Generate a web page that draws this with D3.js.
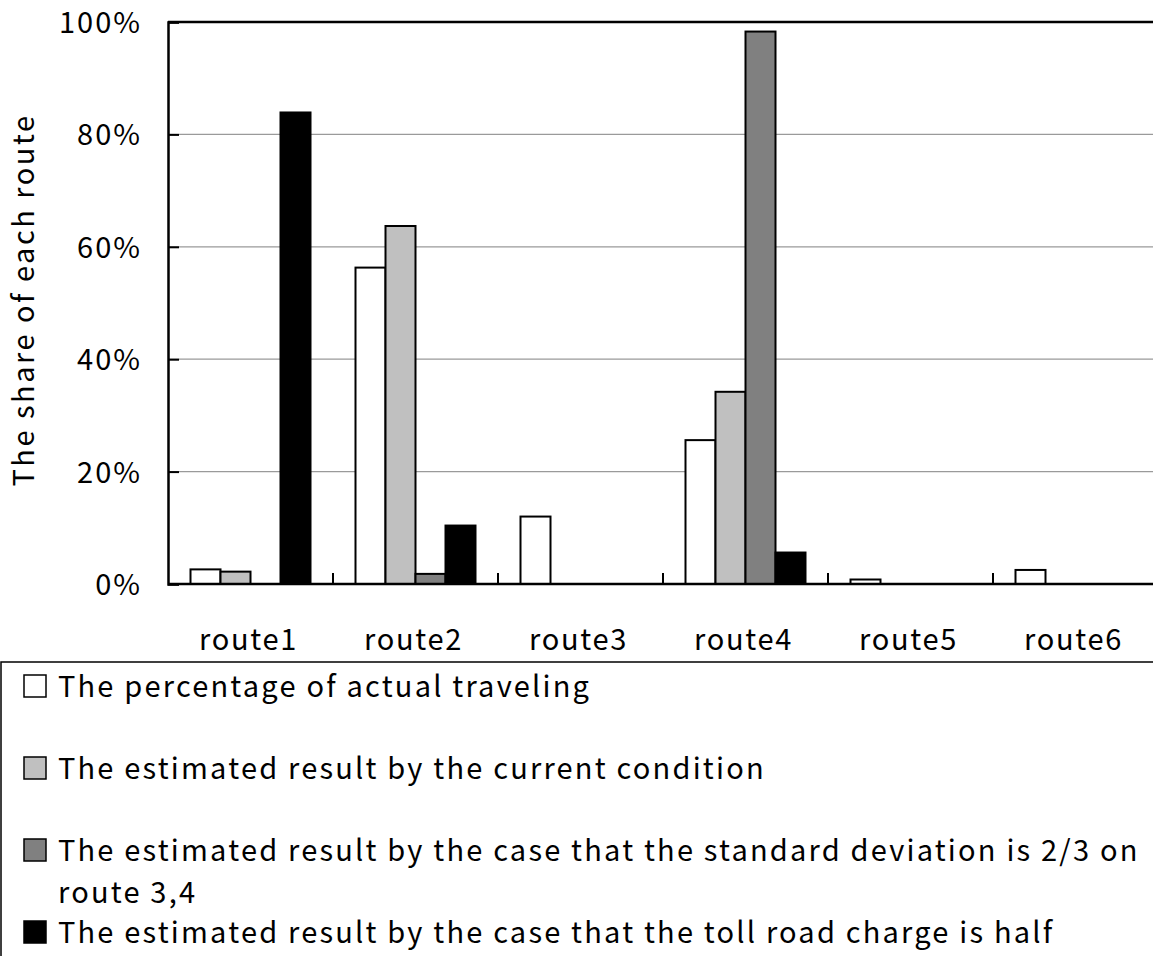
<!DOCTYPE html>
<html>
<head>
<meta charset="utf-8">
<script src="https://cdn.jsdelivr.net/npm/d3@7"></script>
<style>
  html, body { margin: 0; padding: 0; background: #fff; }
  svg { display: block; }
  text { font-family: "Noto Sans CJK JP", "Noto Sans", sans-serif; fill: #000; }
</style>
</head>
<body>
<svg id="chart" width="1153" height="956"></svg>
<script>
// Route share by scenario (percent)
const routes = ["route1", "route2", "route3", "route4", "route5", "route6"];
const seriesNames = ["actual", "current", "stddev", "toll"];
const actualShare  = [2.6, 56.3, 12.0, 25.6, 0.8, 2.5];
const currentShare = [2.2, 63.7, 0, 34.2, 0, 0];
const stddevShare  = [0, 1.8, 0, 98.3, 0, 0];
const tollShare    = [83.9, 10.4, 0, 5.6, 0, 0];
const seriesColors = ["#ffffff", "#c0c0c0", "#808080", "#000000"];
const yTicks = [0, 20, 40, 60, 80, 100];
const legendLabels = [
  ["The percentage of actual traveling"],
  ["The estimated result by the current condition"],
  ["The estimated result by the case that the standard deviation is 2/3 on", "route 3,4"],
  ["The estimated result by the case that the toll road charge is half"]
];
const yTitle = "The share of each route";

const values = [actualShare, currentShare, stddevShare, tollShare];
const rows = [];
routes.forEach((r, i) => {
  seriesNames.forEach((s, j) => rows.push({ route: r, series: s, idx: j, value: values[j][i] }));
});

const svg = d3.select("#chart");
const plotL = 168, plotR = 1158, plotT = 22, plotB = 584;
const fontSize = 29;

const x = d3.scaleBand().domain(routes).range([plotL, plotR]).padding(0);
const xInner = d3.scaleBand().domain(seriesNames).range([0, x.bandwidth()])
  .paddingInner(0).paddingOuter(0.75);
const y = d3.scaleLinear().domain([0, 100]).range([plotB, plotT]);

// gridlines
svg.append("g").selectAll("line")
  .data(yTicks.filter(t => t > 0 && t < 100))
  .join("line")
  .attr("x1", plotL).attr("x2", plotR)
  .attr("y1", d => y(d)).attr("y2", d => y(d))
  .attr("stroke", "#9a9a9a").attr("stroke-width", 1.2);

// bars
svg.append("g").selectAll("rect")
  .data(rows.filter(d => d.value > 0))
  .join("rect")
  .attr("x", d => x(d.route) + xInner(d.series))
  .attr("width", xInner.bandwidth())
  .attr("y", d => y(d.value))
  .attr("height", d => y(0) - y(d.value))
  .attr("fill", d => seriesColors[d.idx])
  .attr("stroke", "#000").attr("stroke-width", 2);

// top border of plot area
svg.append("line")
  .attr("x1", plotL).attr("x2", plotR).attr("y1", plotT).attr("y2", plotT)
  .attr("stroke", "#000").attr("stroke-width", 2.5);

// y axis (ticks point inward)
const yAxis = d3.axisRight(y).tickValues(yTicks).tickSize(11).tickFormat("");
const gy = svg.append("g").attr("transform", `translate(${plotL},0)`).call(yAxis);
gy.select(".domain").attr("stroke", "#000").attr("stroke-width", 2.5);
gy.selectAll(".tick line").attr("stroke", "#000").attr("stroke-width", 2);

svg.append("g").selectAll("text")
  .data(yTicks)
  .join("text")
  .attr("x", 142).attr("y", d => y(d))
  .attr("dy", "0.38em")
  .attr("text-anchor", "end")
  .attr("font-size", fontSize)
  .attr("letter-spacing", 2)
  .text(d => d + "%");

// x axis with category boundary ticks
const gx = svg.append("g");
gx.append("line")
  .attr("x1", plotL).attr("x2", plotR).attr("y1", plotB).attr("y2", plotB)
  .attr("stroke", "#000").attr("stroke-width", 2.5);
gx.selectAll("line.tick")
  .data(routes.slice(1))
  .join("line").attr("class", "tick")
  .attr("x1", d => x(d)).attr("x2", d => x(d))
  .attr("y1", plotB).attr("y2", plotB - 11)
  .attr("stroke", "#000").attr("stroke-width", 2);
gx.selectAll("text")
  .data(routes)
  .join("text")
  .attr("x", d => x(d) + x.bandwidth() / 2 - 2)
  .attr("y", 650)
  .attr("text-anchor", "middle")
  .attr("font-size", fontSize)
  .attr("letter-spacing", 1.7)
  .text(d => d);

// y axis title
svg.append("text")
  .attr("transform", "translate(34,300) rotate(-90)")
  .attr("text-anchor", "middle")
  .attr("font-size", fontSize)
  .attr("letter-spacing", 2.5)
  .text(yTitle);

// legend
const legend = svg.append("g");
legend.append("rect")
  .attr("x", 1).attr("y", 662).attr("width", 1160).attr("height", 310)
  .attr("fill", "none").attr("stroke", "#000").attr("stroke-width", 1.5);
const itemY = [686, 768, 850, 932];
legendLabels.forEach((lines, i) => {
  legend.append("rect")
    .attr("x", 24).attr("y", itemY[i] - 11)
    .attr("width", 22).attr("height", 22)
    .attr("fill", seriesColors[i]).attr("stroke", "#000").attr("stroke-width", 1.5);
  lines.forEach((ln, k) => {
    legend.append("text")
      .attr("x", 58).attr("y", itemY[i] + k * 42)
      .attr("dy", "0.38em")
      .attr("font-size", fontSize)
      .attr("letter-spacing", 2.2)
      .text(ln);
  });
});
</script>
</body>
</html>
